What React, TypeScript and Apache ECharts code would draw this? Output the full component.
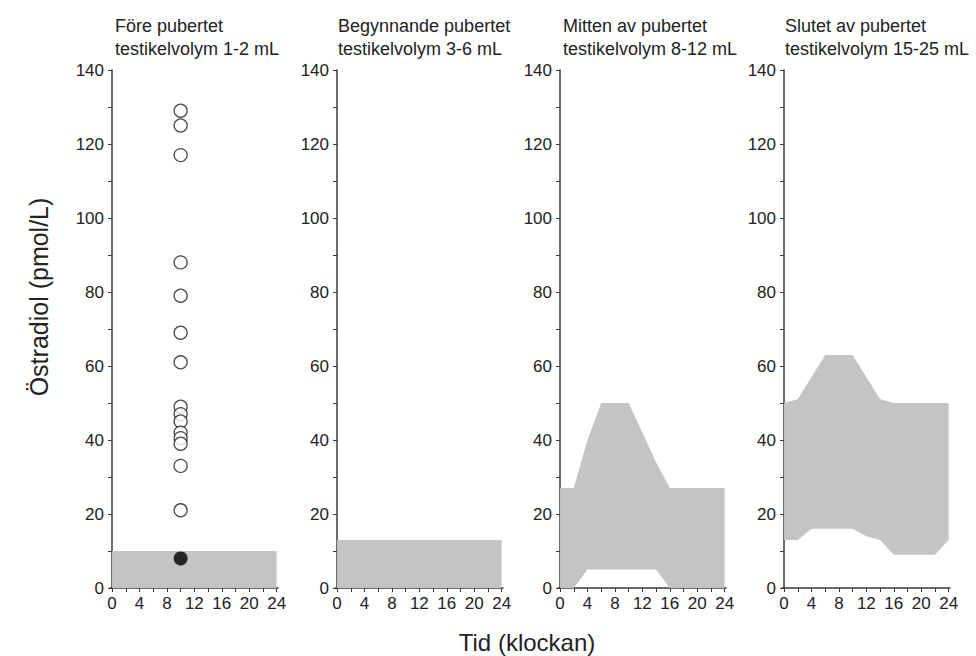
import React, { useEffect, useRef } from "react";
import * as echarts from "echarts";

const hours = [0, 2, 4, 6, 8, 10, 12, 14, 16, 18, 20, 22, 24];

const panelTitles = [
  "Före pubertet\ntestikelvolym 1-2 mL",
  "Begynnande pubertet\ntestikelvolym 3-6 mL",
  "Mitten av pubertet\ntestikelvolym 8-12 mL",
  "Slutet av pubertet\ntestikelvolym 15-25 mL",
];

const prepubertalLow = [0, 0, 0, 0, 0, 0, 0, 0, 0, 0, 0, 0, 0];
const prepubertalHigh = [10, 10, 10, 10, 10, 10, 10, 10, 10, 10, 10, 10, 10];
const earlyLow = [0, 0, 0, 0, 0, 0, 0, 0, 0, 0, 0, 0, 0];
const earlyHigh = [13, 13, 13, 13, 13, 13, 13, 13, 13, 13, 13, 13, 13];
const midLow = [0, 0, 5, 5, 5, 5, 5, 5, 0, 0, 0, 0, 0];
const midHigh = [27, 27, 40, 50, 50, 50, 42, 34, 27, 27, 27, 27, 27];
const lateLow = [13, 13, 16, 16, 16, 16, 14, 13, 9, 9, 9, 9, 13];
const lateHigh = [50, 51, 57, 63, 63, 63, 57, 51, 50, 50, 50, 50, 50];

const circleHour = 10;
const openCircleValues = [129, 125, 117, 88, 79, 69, 61, 49, 47, 45, 42, 40.5, 39, 33, 21];
const filledCircleValues = [8];

const xTickValues = [0, 2, 4, 6, 8, 10, 12, 14, 16, 18, 20, 22, 24];
const xLabelValues = [0, 4, 8, 12, 16, 20, 24];

const bands = [
  [prepubertalLow, prepubertalHigh],
  [earlyLow, earlyHigh],
  [midLow, midHigh],
  [lateLow, lateHigh],
];

const panelLefts = [110, 335, 558, 782];
const FONT = "'Liberation Sans', Arial, sans-serif";
const BAND = "#c4c4c4";
const AXIS = "#3a3a3a";

export default function App() {
  const ref = useRef<HTMLDivElement>(null);
  useEffect(() => {
    if (!ref.current) return;
    const chart = echarts.init(ref.current, undefined, { renderer: "svg" });

    const grids = panelLefts.map((l) => ({ left: l, top: 70, width: 168, height: 518 }));
    const xAxes = panelLefts.map((_, i) => ({
      type: "value",
      gridIndex: i,
      min: -0.3,
      max: 24.2,
      splitLine: { show: false },
      axisLine: { show: true, onZero: false, lineStyle: { color: AXIS, width: 1.5 } },
      axisTick: { show: true, length: 4, customValues: xTickValues, lineStyle: { color: AXIS } },
      axisLabel: { customValues: xLabelValues, color: "#222", fontSize: 17, fontFamily: FONT, margin: 7 },
    }));
    const yAxes = panelLefts.map((_, i) => ({
      type: "value",
      gridIndex: i,
      min: 0,
      max: 140,
      interval: 10,
      splitLine: { show: false },
      axisLine: { show: true, lineStyle: { color: AXIS, width: 1.5 } },
      axisTick: { show: true, length: 4, lineStyle: { color: AXIS } },
      axisLabel: {
        color: "#222",
        fontSize: 17,
        fontFamily: FONT,
        margin: 6,
        formatter: (v: number) => (v % 20 === 0 ? String(v) : ""),
      },
    }));

    const series: any[] = [];
    bands.forEach(([low, high], i) => {
      series.push({
        type: "custom",
        xAxisIndex: i,
        yAxisIndex: i,
        silent: true,
        encode: { x: 0, y: [1, 2] },
        data: hours.map((h, j) => [h, low[j], high[j]]),
        renderItem: (params: any, api: any) => {
          if (params.dataIndex !== 0) return null;
          const upper = hours.map((h, j) => api.coord([h, high[j]]));
          const lower = hours.map((h, j) => api.coord([h, low[j]])).reverse();
          return {
            type: "polygon",
            shape: { points: upper.concat(lower) },
            style: { fill: BAND },
          };
        },
        z: 1,
      });
    });
    series.push({
      type: "scatter",
      xAxisIndex: 0,
      yAxisIndex: 0,
      symbol: "circle",
      symbolSize: 13,
      itemStyle: { color: "#fff", borderColor: "#1a1a1a", borderWidth: 1.3 },
      data: openCircleValues.map((v) => [circleHour, v]),
      z: 5,
    });
    series.push({
      type: "scatter",
      xAxisIndex: 0,
      yAxisIndex: 0,
      symbol: "circle",
      symbolSize: 14,
      itemStyle: { color: "#000" },
      data: filledCircleValues.map((v) => [circleHour, v]),
      z: 6,
    });

    const titleLefts = [115, 338, 563, 785];
    const titles = panelTitles.map((t, i) => ({
      text: t,
      left: titleLefts[i],
      top: 14,
      padding: 0,
      textStyle: { fontSize: 18, fontWeight: "normal", color: "#222", fontFamily: FONT, lineHeight: 23 },
    }));

    chart.setOption({
      animation: false,
      backgroundColor: "#fff",
      title: titles,
      grid: grids,
      xAxis: xAxes,
      yAxis: yAxes,
      series,
      graphic: [
        {
          type: "text",
          x: 39,
          y: 297,
          rotation: Math.PI / 2,
          style: {
            text: "Östradiol (pmol/L)",
            fontSize: 25,
            fontFamily: FONT,
            fill: "#222",
            align: "center",
            verticalAlign: "middle",
          },
        },
        {
          type: "text",
          x: 527,
          y: 642,
          style: {
            text: "Tid (klockan)",
            fontSize: 24,
            fontFamily: FONT,
            fill: "#222",
            align: "center",
            verticalAlign: "middle",
          },
        },
      ],
    });
    return () => chart.dispose();
  }, []);
  return (
    <div
      ref={ref}
      style={{ position: "fixed", left: 0, top: 0, width: 976, height: 656, overflow: "hidden" }}
    />
  );
}
